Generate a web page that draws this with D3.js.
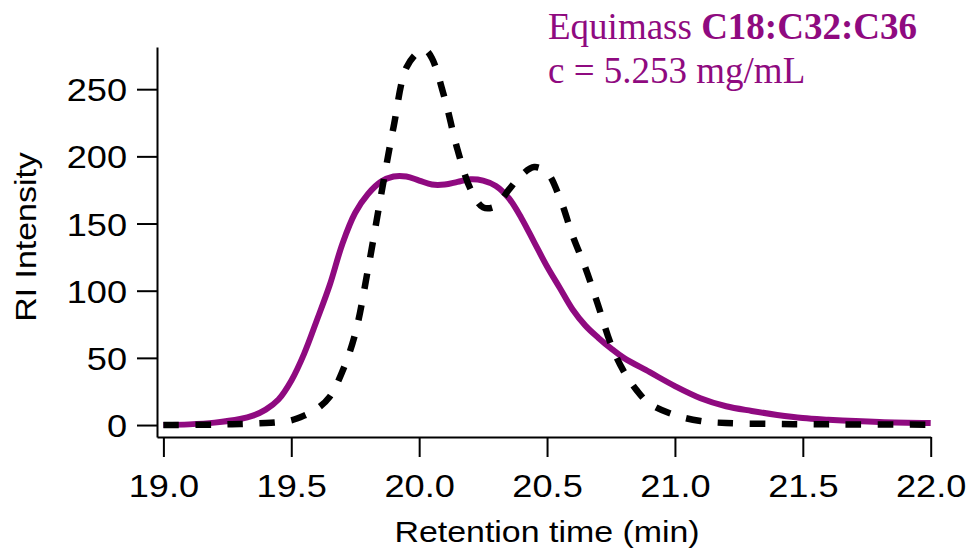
<!DOCTYPE html>
<html>
<head>
<meta charset="utf-8">
<script src="https://cdn.jsdelivr.net/npm/d3@7"></script>
<style>
  html, body { margin: 0; padding: 0; background: #fff; }
  svg { display: block; }
</style>
</head>
<body>
<svg id="chart" width="972" height="550"></svg>
<script>
// ---- data ----
const purpleTime = [19.0, 19.1, 19.2, 19.3, 19.35, 19.4, 19.45, 19.5, 19.55, 19.6, 19.65, 19.7, 19.75, 19.8, 19.85, 19.9, 19.95, 20.0, 20.05, 20.1, 20.15, 20.2, 20.25, 20.3, 20.35, 20.4, 20.45, 20.5, 20.55, 20.6, 20.65, 20.7, 20.75, 20.8, 20.9, 21.0, 21.1, 21.2, 21.3, 21.4, 21.5, 21.6, 21.8, 22.0];
const purpleValue = [0, 0.5, 1.8, 4.5, 7, 11.5, 19, 33, 53, 78, 104, 135, 158, 172, 181, 185, 185, 182, 179, 179, 181, 183, 182, 178, 169, 154, 136, 118, 102, 86, 74, 65, 57, 50, 39.5, 29, 20, 14, 10.5, 7.5, 5.2, 4, 2.3, 1.5];

const dashedTime = [19.0, 19.2, 19.3, 19.4, 19.45, 19.5, 19.55, 19.6, 19.65, 19.7, 19.75, 19.8, 19.85, 19.9, 19.95, 20.0, 20.025, 20.05, 20.1, 20.15, 20.2, 20.25, 20.3, 20.35, 20.4, 20.45, 20.5, 20.55, 20.6, 20.65, 20.7, 20.75, 20.8, 20.85, 20.9, 21.0, 21.1, 21.2, 21.4, 21.6, 22.0];
const dashedValue = [0, 0.3, 0.8, 1.5, 2.2, 3.5, 7, 12, 21, 40, 68, 116, 170, 222, 266, 278, 279, 273, 243, 205, 176, 162, 163, 175, 186, 192, 188, 169, 141, 117, 89, 60, 40, 26, 16, 7.4, 3, 1.5, 0.8, 0.5, 0.3];

const xTicks = [19.0, 19.5, 20.0, 20.5, 21.0, 21.5, 22.0];
const yTicks = [0, 50, 100, 150, 200, 250];

const titleLine1Normal = "Equimass ";
const titleLine1Bold = "C18:C32:C36";
const titleLine2 = "c = 5.253 mg/mL";
const xLabel = "Retention time (min)";
const yLabel = "RI Intensity";

// ---- chart ----
const purple = "#8f0a80";
const svg = d3.select("#chart");

const x = d3.scaleLinear().domain([18.975, 22]).range([157, 930.7]);
const y = d3.scaleLinear().domain([-8.9, 281.4]).range([437, 47]);

const sansFont = "'Liberation Sans', Arial, Helvetica, sans-serif";
const stretch = 1.13;

function widen(sel) {
  sel.each(function () {
    const len = this.getComputedTextLength();
    d3.select(this).attr("textLength", len * stretch).attr("lengthAdjust", "spacingAndGlyphs");
  });
}

// x axis
const gx = svg.append("g")
  .attr("transform", "translate(0,437)")
  .call(d3.axisBottom(x).tickValues(xTicks).tickFormat(d3.format(".1f"))
    .tickSize(20).tickSizeOuter(0).tickPadding(10));
gx.select(".domain").attr("stroke", "#000").attr("stroke-width", 2);
gx.selectAll(".tick line").attr("stroke", "#000").attr("stroke-width", 2);
gx.selectAll(".tick text")
  .attr("font-family", sansFont).attr("font-size", 32).attr("fill", "#000")
  .attr("dy", null).attr("y", 60);
gx.selectAll(".tick text").call(widen);

// y axis
const gy = svg.append("g")
  .attr("transform", "translate(157,0)")
  .call(d3.axisLeft(y).tickValues(yTicks).tickFormat(d3.format("d"))
    .tickSize(20).tickSizeOuter(0).tickPadding(10));
gy.select(".domain").attr("stroke", "#000").attr("stroke-width", 2);
gy.selectAll(".tick line").attr("stroke", "#000").attr("stroke-width", 2);
gy.selectAll(".tick text")
  .attr("font-family", sansFont).attr("font-size", 32).attr("fill", "#000")
  .attr("dy", "0.36em");
gy.selectAll(".tick text").call(widen);

// axis titles
svg.append("text")
  .attr("x", x(20.5)).attr("y", 542)
  .attr("text-anchor", "middle")
  .attr("font-family", sansFont).attr("font-size", 30).attr("fill", "#000")
  .text(xLabel).call(widen);

svg.append("text")
  .attr("transform", "translate(36,237) rotate(-90)")
  .attr("text-anchor", "middle")
  .attr("font-family", sansFont).attr("font-size", 30).attr("fill", "#000")
  .text(yLabel).call(widen);

// curves
const purpleData = purpleTime.map((t, i) => [t, purpleValue[i]]);
const dashedData = dashedTime.map((t, i) => [t, dashedValue[i]]);
const line = d3.line().x(d => x(d[0])).y(d => y(d[1])).curve(d3.curveCatmullRom.alpha(0.5));

svg.append("path")
  .datum(purpleData)
  .attr("d", line)
  .attr("fill", "none")
  .attr("stroke", purple)
  .attr("stroke-width", 6)
  .attr("stroke-linejoin", "round");

svg.append("path")
  .datum(dashedData)
  .attr("d", line)
  .attr("fill", "none")
  .attr("stroke", "#000")
  .attr("stroke-width", 6.5)
  .attr("stroke-dasharray", "15.5,16.5")
  .attr("stroke-linecap", "butt");

// annotation
const serif = "'Liberation Serif', 'Times New Roman', Times, serif";
const t1 = svg.append("text")
  .attr("x", 548).attr("y", 39)
  .attr("font-family", serif).attr("font-size", 37).attr("fill", purple);
t1.append("tspan").text(titleLine1Normal);
t1.append("tspan").attr("font-weight", "bold").text(titleLine1Bold);

svg.append("text")
  .attr("x", 548).attr("y", 83)
  .attr("font-family", serif).attr("font-size", 37).attr("fill", purple)
  .text(titleLine2);
</script>
</body>
</html>
